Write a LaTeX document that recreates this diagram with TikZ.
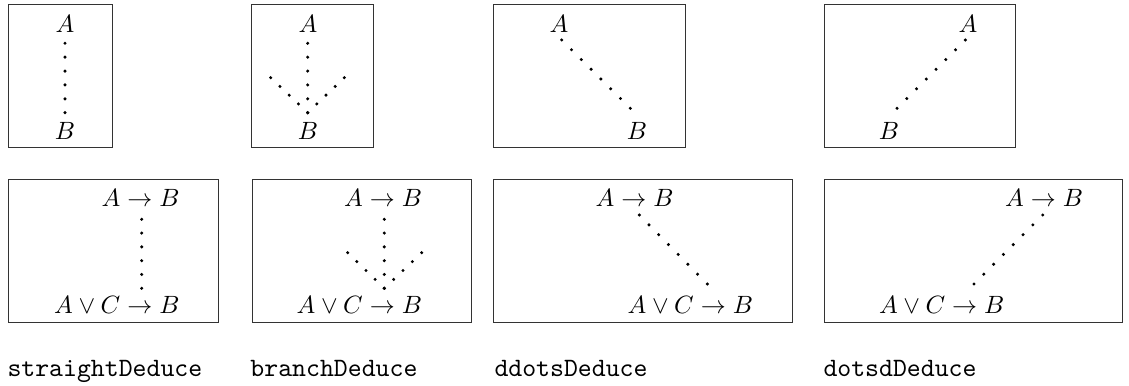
\documentclass[tikz,border=0pt]{standalone}
\usetikzlibrary{calc}
\tikzset{
  frame/.style={draw=black!80, line width=0.4pt},
  lbl/.style={inner sep=0pt, anchor=base},
  lble/.style={inner sep=0pt, anchor=base east},
  ttlabel/.style={inner sep=0pt, anchor=base west, font=\fontsize{10.6}{13}\selectfont\ttfamily},
}
\newcommand{\dotrow}[3]{% from, to, number of gaps
  \foreach \i in {0,...,#3}{\fill ($(#1)!\i/#3!(#2)$) circle (1.7);}}
\begin{document}
\begin{tikzpicture}[x=0.4pt,y=-0.4pt]
\useasboundingbox (0,0) rectangle (1129,386);
% frames
\draw[frame] (8,5) rectangle (112,148);
\draw[frame] (251,5) rectangle (373,148);
\draw[frame] (493,5) rectangle (685,148);
\draw[frame] (824,5) rectangle (1015,148);
\draw[frame] (8,180) rectangle (218,323);
\draw[frame] (252,180) rectangle (471,323);
\draw[frame] (493,180) rectangle (792,323);
\draw[frame] (824,180) rectangle (1122,323);
% box 1
\node[lbl] (a1) at (65,32.3) {$A$};
\node[lbl] (b1) at (65,139.3) {$B$};
\coordinate (s1) at (65,43.3); \coordinate (e1) at (65,112.7);
\dotrow{s1}{e1}{5}
% box 2
\node[lbl] (a2) at (308,32.3) {$A$};
\node[lbl] (b2) at (308,139.3) {$B$};
\coordinate (s2) at (307.7,43.3); \coordinate (e2) at (307.7,112.7);
\coordinate (l2) at (270.7,77.7); \coordinate (r2) at (344.3,77.7);
\dotrow{s2}{e2}{5}
\dotrow{e2}{l2}{4}
\dotrow{e2}{r2}{4}
% box 3
\node[lbl] (a3) at (559,32.3) {$A$};
\node[lbl] (b3) at (637,139.3) {$B$};
\coordinate (s3) at (561.7,40); \coordinate (e3) at (630.3,108.3);
\dotrow{s3}{e3}{7}
% box 4
\node[lbl] (a4) at (968,32.3) {$A$};
\node[lbl] (b4) at (889,139.3) {$B$};
\coordinate (s4) at (965.3,40); \coordinate (e4) at (897,108.3);
\dotrow{s4}{e4}{7}
% box 5
\node[lble] (a5) at (180,206.7) {$A\rightarrow B$};
\node[lble] (b5) at (180,313.3) {$A\vee C\rightarrow B$};
\coordinate (s5) at (141.7,219.3); \coordinate (e5) at (141.7,288.3);
\dotrow{s5}{e5}{5}
% box 6
\node[lble] (a6) at (422.5,206.7) {$A\rightarrow B$};
\node[lble] (b6) at (422.5,313.3) {$A\vee C\rightarrow B$};
\coordinate (s6) at (384.3,219.3); \coordinate (e6) at (384.3,288.3);
\coordinate (l6) at (347.7,252.7); \coordinate (r6) at (421.7,252.7);
\dotrow{s6}{e6}{5}
\dotrow{e6}{l6}{4}
\dotrow{e6}{r6}{4}
% box 7
\node[lble] (a7) at (674,206.7) {$A\rightarrow B$};
\node[lble] (b7) at (753.5,314) {$A\vee C\rightarrow B$};
\coordinate (s7) at (639.3,215); \coordinate (e7) at (707.3,284);
\dotrow{s7}{e7}{7}
% box 8
\node[lble] (a8) at (1083.5,206.7) {$A\rightarrow B$};
\node[lble] (b8) at (1004.8,314) {$A\vee C\rightarrow B$};
\coordinate (s8) at (1042.7,215); \coordinate (e8) at (974,284);
\dotrow{s8}{e8}{7}
% names
\node[ttlabel] (n1) at (7,376.7) {straightDeduce};
\node[ttlabel] (n2) at (250,376.7) {branchDeduce};
\node[ttlabel] (n3) at (494,376.7) {ddotsDeduce};
\node[ttlabel] (n4) at (823,376.7) {dotsdDeduce};
\end{tikzpicture}
\end{document}
